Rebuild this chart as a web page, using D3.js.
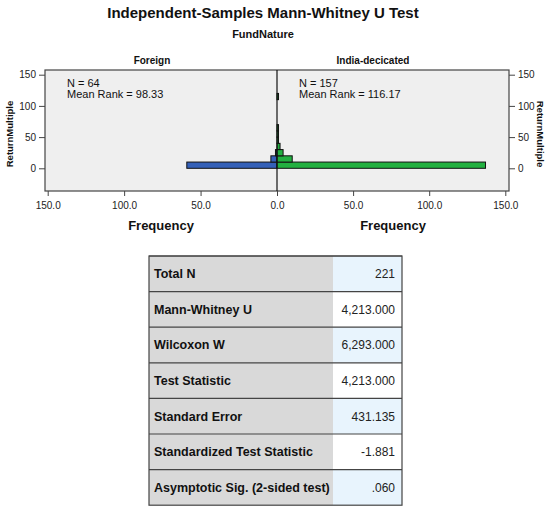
<!DOCTYPE html>
<html>
<head>
<meta charset="utf-8">
<script src="https://cdn.jsdelivr.net/npm/d3@7"></script>
<style>
  body { margin: 0; background: #fff; }
  text { font-family: "Liberation Sans", Arial, sans-serif; fill: #111; }
</style>
</head>
<body>
<svg id="chart" width="550" height="512"></svg>
<script>
// histogram data (bins of ReturnMultiple, width 10)
const binStarts = [0, 10, 20, 30, 40, 50, 60, 110];
const binWidth = 10;
const foreignFreq = [59, 4, 1, 0, 0, 0, 0, 0];
const indiaFreq = [137, 10, 4, 2, 1, 1, 1, 1];
const freqTicks = [0, 50, 100, 150];
const yTicks = [0, 50, 100, 150];
const groups = ["Foreign", "India-decicated"];
const groupNotes = [["N = 64", "Mean Rank = 98.33"], ["N = 157", "Mean Rank = 116.17"]];

// summary table
const rowLabels = ["Total N", "Mann-Whitney U", "Wilcoxon W", "Test Statistic",
  "Standard Error", "Standardized Test Statistic", "Asymptotic Sig. (2-sided test)"];
const rowValues = ["221", "4,213.000", "6,293.000", "4,213.000", "431.135", "-1.881", ".060"];

var svg = d3.select("#chart");

//
// panel geometry
var panel = {left: 45, right: 509, top: 70, bottom: 191};
var mid = 277;

var xL = d3.scaleLinear().domain([0, 150]).range([mid, 47.7]);
var xR = d3.scaleLinear().domain([0, 150]).range([mid, 505.3]);
var y = d3.scaleLinear().domain([0, 150]).range([168.3, 74.7]);

//
// titles
svg.append("text").attr("x", 263).attr("y", 18).attr("text-anchor", "middle")
  .style("font-size", "15px").style("font-weight", "bold")
  .text("Independent-Samples Mann-Whitney U Test");
svg.append("text").attr("x", 263).attr("y", 38).attr("text-anchor", "middle")
  .style("font-size", "11px").style("font-weight", "bold").text("FundNature");
svg.append("text").attr("x", 152).attr("y", 64).attr("text-anchor", "middle")
  .style("font-size", "10px").style("font-weight", "bold").text(groups[0]);
svg.append("text").attr("x", 373).attr("y", 64).attr("text-anchor", "middle")
  .style("font-size", "10px").style("font-weight", "bold").text(groups[1]);

//
// panel background
svg.append("rect")
  .attr("x", panel.left).attr("y", panel.top)
  .attr("width", panel.right - panel.left).attr("height", panel.bottom - panel.top)
  .style("fill", "#efefef").style("stroke", "#444").style("stroke-width", 1.2);

//
// bars
var bars = binStarts.map((b, i) => ({b: b, f: foreignFreq[i], n: indiaFreq[i]}));
svg.append("g").selectAll("rect").data(bars.filter(d => d.f > 0)).enter().append("rect")
  .attr("x", d => xL(d.f)).attr("y", d => y(d.b + binWidth))
  .attr("width", d => mid - xL(d.f)).attr("height", d => y(d.b) - y(d.b + binWidth))
  .style("fill", "#3460b8").style("stroke", "#111").style("stroke-width", 1);
svg.append("g").selectAll("rect").data(bars.filter(d => d.n > 0)).enter().append("rect")
  .attr("x", mid).attr("y", d => y(d.b + binWidth))
  .attr("width", d => xR(d.n) - mid).attr("height", d => y(d.b) - y(d.b + binWidth))
  .style("fill", "#22b040").style("stroke", "#111").style("stroke-width", 1);

// center line
svg.append("line").attr("x1", mid).attr("x2", mid)
  .attr("y1", panel.top).attr("y2", panel.bottom)
  .style("stroke", "#111").style("stroke-width", 1.2);

//
// y axes
var yl = svg.append("g").attr("transform", "translate(" + panel.left + ",0)")
  .call(d3.axisLeft(y).tickValues(yTicks).tickSize(6).tickFormat(d3.format("d")));
var yr = svg.append("g").attr("transform", "translate(" + panel.right + ",0)")
  .call(d3.axisRight(y).tickValues(yTicks).tickSize(6).tickFormat(d3.format("d")));

//
// x axes
var xl = svg.append("g").attr("transform", "translate(0," + panel.bottom + ")")
  .call(d3.axisBottom(xL).tickValues(freqTicks).tickSize(5).tickFormat(d3.format(".1f")));
var xr = svg.append("g").attr("transform", "translate(0," + panel.bottom + ")")
  .call(d3.axisBottom(xR).tickValues(freqTicks.slice(1)).tickSize(5).tickFormat(d3.format(".1f")));

[yl, yr, xl, xr].forEach(g => {
  g.select(".domain").remove();
  g.selectAll("line").style("stroke", "#444");
  g.selectAll("text").style("font-size", "10px").style("fill", "#222")
    .style("font-family", "'Liberation Sans', Arial, sans-serif");
});
xl.selectAll("text").attr("dy", "0.95em");
xr.selectAll("text").attr("dy", "0.95em");

//
// axis titles
svg.append("text").attr("transform", "translate(13,134) rotate(-90)")
  .attr("text-anchor", "middle").style("font-size", "9.5px").style("font-weight", "bold")
  .text("ReturnMultiple");
svg.append("text").attr("transform", "translate(537,134) rotate(90)")
  .attr("text-anchor", "middle").style("font-size", "9.5px").style("font-weight", "bold")
  .text("ReturnMultiple");
svg.append("text").attr("x", 161).attr("y", 230).attr("text-anchor", "middle")
  .style("font-size", "13px").style("font-weight", "bold").text("Frequency");
svg.append("text").attr("x", 393).attr("y", 230).attr("text-anchor", "middle")
  .style("font-size", "13px").style("font-weight", "bold").text("Frequency");

//
// N / mean rank notes
[67, 299].forEach((x0, i) => {
  groupNotes[i].forEach((t, j) => {
    svg.append("text").attr("x", x0).attr("y", 87 + j * 11)
      .style("font-size", "11px").text(t);
  });
});

//
// table
var tbl = {left: 149, mid: 333, right: 402, top: 256, rowH: 35.6};
var rows = svg.append("g").selectAll("g").data(rowLabels).enter().append("g")
  .attr("transform", (d, i) => "translate(0," + (tbl.top + i * tbl.rowH) + ")");
rows.append("rect").attr("x", tbl.left).attr("width", tbl.mid - tbl.left).attr("height", tbl.rowH)
  .style("fill", "#d9d9d9");
rows.append("rect").attr("x", tbl.mid).attr("width", tbl.right - tbl.mid).attr("height", tbl.rowH)
  .style("fill", (d, i) => i % 2 === 0 ? "#e8f4fd" : "#ffffff");
rows.append("line").attr("x1", tbl.left).attr("x2", tbl.right).attr("y1", 0).attr("y2", 0)
  .style("stroke", "#444").style("stroke-width", 1.2);
rows.append("text").attr("x", tbl.left + 5).attr("y", tbl.rowH / 2 + 4.5)
  .style("font-size", "12.5px").style("font-weight", "bold").text(d => d);
rows.append("text").attr("x", tbl.right - 7).attr("y", tbl.rowH / 2 + 4.5)
  .attr("text-anchor", "end").style("font-size", "12px").style("fill", "#222")
  .text((d, i) => rowValues[i]);
svg.append("rect").attr("x", tbl.left).attr("y", tbl.top)
  .attr("width", tbl.right - tbl.left).attr("height", tbl.rowH * rowLabels.length)
  .style("fill", "none").style("stroke", "#444").style("stroke-width", 1.2);
</script>
</body>
</html>
